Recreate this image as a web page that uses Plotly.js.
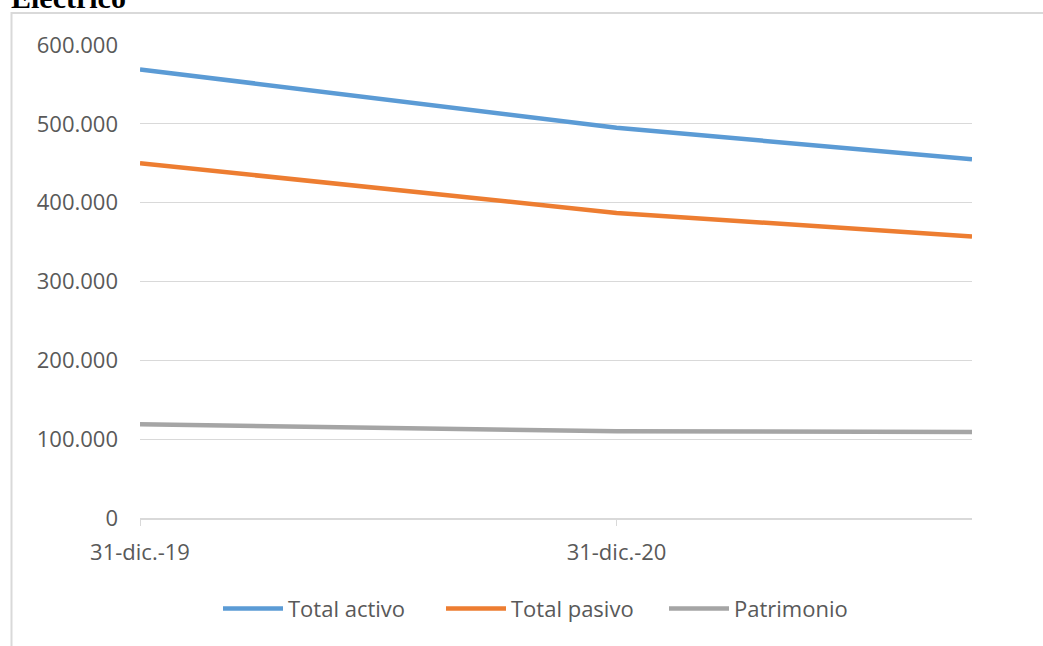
<!DOCTYPE html>
<html>
<head>
<meta charset="utf-8">
<script src="https://cdn.plot.ly/plotly-3.0.1.min.js"></script>
<style>html,body{margin:0;padding:0;background:#fff;}</style>
</head>
<body>
<div id="chart" style="width:1043px;height:646px;"></div>
<script>
const dates = ["2019-12-31", "2020-12-31", "2021-09-30"];
const totalActivo = [569000, 495000, 455000];
const totalPasivo = [450000, 387000, 357000];
const patrimonio = [119000, 110000, 109000];
const xTickVals = ["2019-12-31", "2020-12-31"];
const xTickText = ["31-dic.-19", "31-dic.-20"];
const seriesNames = ["Total activo", "Total pasivo", "Patrimonio"];
const colors = ["#5B9BD5", "#ED7D31", "#A5A5A5"];

const seriesValues = [totalActivo, totalPasivo, patrimonio];
const traces = seriesValues.map((v, i) => ({
  x: dates, y: v, type: "scatter", mode: "lines", name: seriesNames[i],
  line: {color: colors[i], width: 4.5}
}));

const font = {family: "Open Sans, sans-serif", size: 22, color: "#595959"};
const layout = {
  width: 1043, height: 646,
  margin: {l: 140, r: 71, t: 45, b: 128, autoexpand: false},
  paper_bgcolor: "#ffffff", plot_bgcolor: "#ffffff",
  separators: ",.",
  font: font,
  showlegend: true,
  legend: {orientation: "h", x: (218 - 140) / 832, xanchor: "left", y: -0.192, yanchor: "middle",
           font: font, itemwidth: 60, entrywidth: 148, entrywidthmode: "pixels", traceorder: "normal"},
  xaxis: {type: "date", range: ["2019-12-31", "2021-09-30"], tickvals: xTickVals, ticktext: xTickText,
          showgrid: false, showline: true, linecolor: "#d9d9d9", linewidth: 1.5,
          ticks: "outside", ticklen: 6, tickcolor: "#d9d9d9", tickfont: font, zeroline: false,
          ticklabelstandoff: 8},
  yaxis: {range: [0, 600000], tickmode: "linear", tick0: 0, dtick: 100000, tickformat: ",d",
          showgrid: true, gridcolor: "#d9d9d9", gridwidth: 1.2, showline: false, zeroline: false,
          tickfont: font, ticks: "", ticklabelstandoff: 21},
  shapes: [{type: "rect", xref: "paper", yref: "paper",
            x0: (11.5 - 140) / 832, x1: (1048 - 140) / 832,
            y0: (518 - 652) / 473, y1: (518 - 13) / 473,
            line: {color: "#d9d9d9", width: 2}, fillcolor: "rgba(0,0,0,0)", layer: "below"}],
  annotations: [{text: "<b>Eléctrico</b>", xref: "paper", yref: "paper",
                 x: (9 - 140) / 832, xanchor: "left", y: (518 - 16) / 473, yanchor: "bottom",
                 showarrow: false, font: {family: "Liberation Serif, serif", size: 30, color: "#000"}}]
};
Plotly.newPlot("chart", traces, layout, {displayModeBar: false});
</script>
</body>
</html>
